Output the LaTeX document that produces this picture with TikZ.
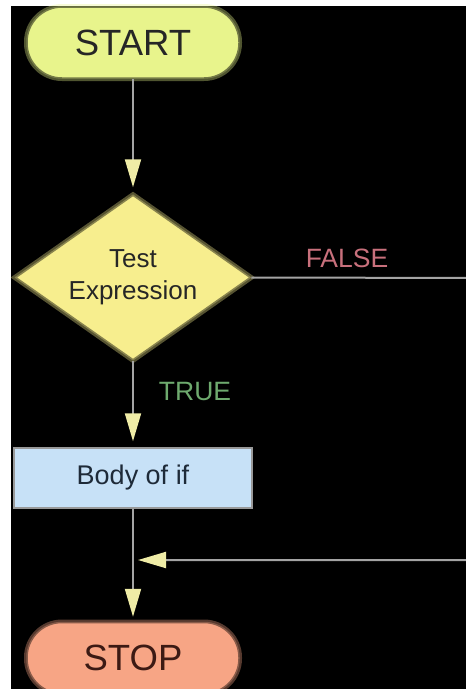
\documentclass[tikz,border=0pt]{standalone}
\usepackage{fontspec}
\setmainfont{Liberation Sans}
\usetikzlibrary{arrows.meta,shapes.geometric}

\definecolor{startfill}{HTML}{E8F48C}
\definecolor{decfill}{HTML}{F7EE8E}
\definecolor{bodyfill}{HTML}{C7E1F7}
\definecolor{stopfill}{HTML}{F7A585}
\definecolor{linec}{HTML}{A4A4A4}
\definecolor{tipc}{HTML}{EFECA6}
\definecolor{falsec}{HTML}{C8707C}
\definecolor{truec}{HTML}{6EAA6E}
\definecolor{bodytext}{HTML}{1E2A38}
\definecolor{stoptext}{HTML}{3C1A14}

\tikzset{
  halo/.style={preaction={draw=#1,line width=6pt,opacity=0.35}},
  terminal/.style={rounded corners=35pt,minimum width=212pt,minimum height=71pt,
    inner sep=0pt,line width=1.5pt,font=\fontsize{36.5}{40}\selectfont},
  decision/.style={diamond,minimum width=235pt,minimum height=165pt,aspect=1.42,
    inner sep=0pt,fill=decfill,draw=decfill!55!black,line width=1.5pt,halo=decfill,
    align=center,font=\fontsize{26}{32}\selectfont,text=black!85},
  process/.style={rectangle,minimum width=238pt,minimum height=60pt,inner sep=0pt,
    fill=bodyfill,draw=black!40,line width=1.5pt,
    font=\fontsize{27}{32}\selectfont,text=bodytext},
  flow/.style={draw=linec,line width=2pt,
    -{Triangle[length=28pt,width=16pt,color=tipc]}},
  edgelabel/.style={font=\fontsize{26.5}{30}\selectfont}
}

\begin{document}
\begin{tikzpicture}[x=1pt,y=-1pt]
  \useasboundingbox (0,0) rectangle (466,689);
  \clip (0,0) rectangle (466,689);
  \fill[black] (11,6) rectangle (466,689);

  % flowchart nodes, all on the same vertical axis
  \node[terminal,fill=startfill,draw=startfill!50!black,halo=startfill,text=black!85]
    (start) at (133,42.5) {START};
  \node[decision] (test) at (133,277.5) {Test\\Expression};
  \node[process] (body) at (133,478) {Body of if};
  \node[terminal,fill=stopfill,draw=stopfill!55!black,halo=stopfill,text=stoptext]
    (stop) at (133,658) {STOP};

  % branch labels
  \node[edgelabel,text=falsec] (flabel) at (347,258) {FALSE};
  \node[edgelabel,text=truec] (tlabel) at (195,392) {TRUE};

  % connectors
  \coordinate (outer) at (485,278);
  \coordinate (join) at (133,560);
  \draw[flow,shorten >=7pt] (start.south) -- (test.north);
  \draw[flow,shorten >=6pt] (test.south) -- (body.north);
  \draw[flow,shorten >=5pt] (body.south) -- (stop.north);
  \draw[flow,shorten >=5pt] (test.east) -- (outer) |- (join);
\end{tikzpicture}
\end{document}
